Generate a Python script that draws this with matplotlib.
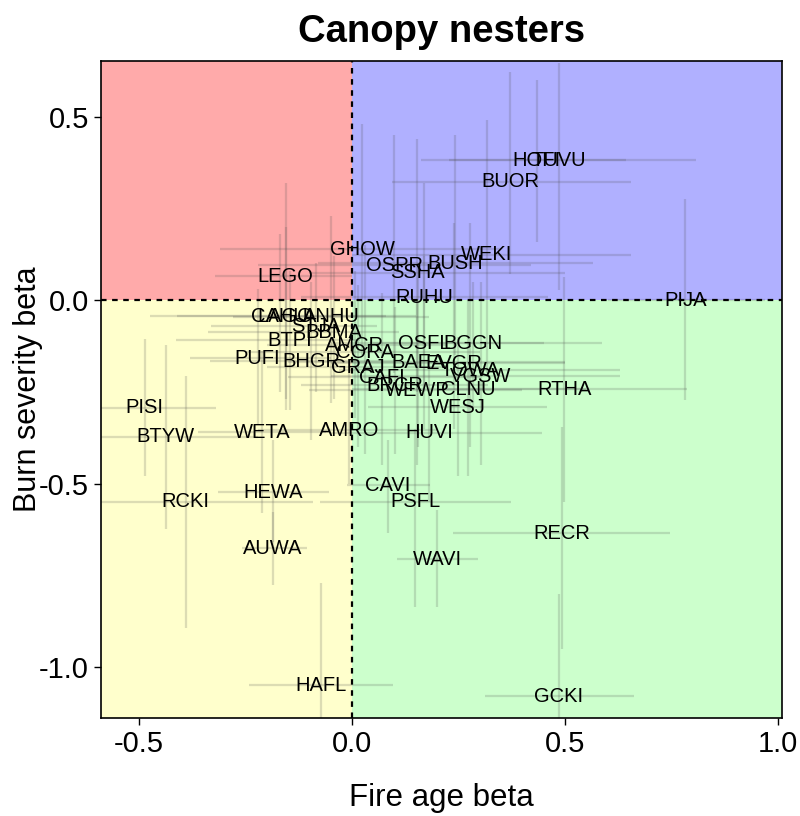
import matplotlib
matplotlib.use("Agg")
import matplotlib.pyplot as plt

plt.rcParams['font.family'] = ['Liberation Sans', 'DejaVu Sans']

species = ["PISI", "BTYW", "RCKI", "WETA", "HEWA", "AUWA", "HAFL", "PUFI",
           "BHGR", "BTPI", "CAHU", "LAGO", "ANHU", "STJA", "BBMA", "AMCR",
           "CORA", "GRAJ", "CAFI", "BRCR", "WEWP", "CLNU", "BAEA", "EVGR",
           "TOWA", "VGSW", "OSFL", "BGGN", "WESJ", "HUVI", "RTHA", "PIJA",
           "AMRO", "CAVI", "PSFL", "WAVI", "RECR", "GCKI", "GHOW", "LEGO",
           "OSPR", "SSHA", "BUSH", "WEKI", "RUHU", "BUOR", "HOFI", "TUVU"]

fire_beta = [-0.486, -0.437, -0.390, -0.211, -0.185, -0.185, -0.073, -0.221,
             -0.096, -0.146, -0.169, -0.155, -0.049, -0.085, -0.042, 0.007,
             0.031, 0.014, 0.070, 0.101, 0.153, 0.272, 0.155, 0.239,
             0.277, 0.303, 0.169, 0.284, 0.249, 0.181, 0.498, 0.782,
             -0.007, 0.085, 0.148, 0.200, 0.493, 0.486, 0.024, -0.155,
             0.099, 0.153, 0.242, 0.317, 0.169, 0.371, 0.434, 0.486]

burn_beta = [-0.294, -0.373, -0.550, -0.360, -0.523, -0.676, -1.049, -0.158,
             -0.166, -0.109, -0.044, -0.044, -0.046, -0.071, -0.087, -0.123,
             -0.142, -0.183, -0.210, -0.232, -0.245, -0.243, -0.169, -0.172,
             -0.191, -0.207, -0.117, -0.117, -0.292, -0.362, -0.243, 0.000,
             -0.354, -0.504, -0.550, -0.706, -0.635, -1.079, 0.139, 0.065,
             0.095, 0.074, 0.101, 0.123, 0.008, 0.322, 0.381, 0.381]

fire_lo = [-0.62, -0.66, -0.70, -0.36, -0.315, -0.258, -0.242, -0.38,
           -0.333, -0.413, -0.474, -0.41, -0.28, -0.33, -0.338, -0.20,
           -0.25, -0.20, -0.15, -0.12, -0.10, 0.00, -0.15, -0.05,
           -0.03, -0.05, -0.05, 0.05, 0.038, -0.05, 0.20, 0.60,
           -0.22, -0.012, -0.075, 0.106, 0.237, 0.312, -0.31, -0.32,
           -0.22, -0.10, -0.08, 0.00, -0.12, 0.094, 0.162, 0.228]

fire_hi = [-0.319, -0.22, -0.092, -0.06, -0.054, -0.106, 0.096, -0.05,
           0.10, 0.02, 0.08, 0.15, 0.18, 0.06, 0.11, 0.22,
           0.30, 0.22, 0.30, 0.32, 0.40, 0.55, 0.50, 0.50,
           0.63, 0.63, 0.587, 0.45, 0.458, 0.446, 0.786, 0.97,
           0.20, 0.183, 0.373, 0.296, 0.746, 0.662, 0.35, 0.00,
           0.42, 0.50, 0.566, 0.655, 0.46, 0.655, 0.643, 0.808]

burn_lo = [-0.480, -0.624, -0.894, -0.58, -0.66, -0.777, -1.25, -0.34,
           -0.38, -0.30, -0.25, -0.30, -0.28, -0.25, -0.27, -0.32,
           -0.42, -0.40, -0.45, -0.42, -0.45, -0.48, -0.40, -0.35,
           -0.40, -0.45, -0.35, -0.30, -0.48, -0.55, -0.55, -0.272,
           -0.50, -0.635, -0.837, -0.837, -0.95, -1.30, -0.15, -0.27,
           -0.20, -0.25, -0.15, -0.20, -0.25, 0.071, 0.158, 0.027]

burn_hi = [-0.106, -0.123, -0.207, -0.14, -0.38, -0.578, -0.771, 0.03,
           0.05, 0.08, 0.18, 0.20, 0.23, 0.10, 0.12, 0.08,
           0.15, 0.04, 0.02, -0.02, 0.00, 0.00, 0.10, 0.21,
           0.21, 0.05, 0.12, 0.05, -0.10, -0.17, 0.063, 0.275,
           -0.20, -0.38, -0.35, -0.572, -0.346, -0.80, 0.48, 0.32,
           0.45, 0.44, 0.45, 0.49, 0.32, 0.621, 0.599, 0.646]

xmin, xmax = -0.589, 1.009
ymin, ymax = -1.139, 0.651

fig = plt.figure(figsize=(8, 8.16), dpi=100)
ax = fig.add_axes([0.126, 0.12, 0.8515, 0.805])

# quadrant shading
ax.fill_between([xmin, 0], 0, ymax, color="#FFAAAA", lw=0, zorder=0)
ax.fill_between([0, xmax], 0, ymax, color="#B0B0FF", lw=0, zorder=0)
ax.fill_between([xmin, 0], ymin, 0, color="#FFFFCC", lw=0, zorder=0)
ax.fill_between([0, xmax], ymin, 0, color="#CCFFCC", lw=0, zorder=0)

# credible intervals
ax.hlines(burn_beta, fire_lo, fire_hi, color="#505050", alpha=0.2, lw=1.6, zorder=1)
ax.vlines(fire_beta, burn_lo, burn_hi, color="#505050", alpha=0.2, lw=1.6, zorder=1)

ax.axvline(0, color="black", ls=(0, (2.5, 2.5)), lw=1.6, zorder=2)
ax.axhline(0, color="black", ls=(0, (2.5, 2.5)), lw=1.6, zorder=2)

for name, fx, by in zip(species, fire_beta, burn_beta):
    ax.text(fx, by, name, ha="center", va="center", fontsize=14.5, zorder=3)

ax.set_xlim(xmin, xmax)
ax.set_ylim(ymin, ymax)
ax.set_xticks([-0.5, 0.0, 0.5, 1.0])
ax.set_xticklabels(["-0.5", "0.0", "0.5", "1.0"])
ax.set_yticks([-1.0, -0.5, 0.0, 0.5])
ax.set_yticklabels(["-1.0", "-0.5", "0.0", "0.5"])
ax.tick_params(labelsize=21, length=5, width=1, direction="out")
for s in ax.spines.values():
    s.set_linewidth(1.2)

ax.set_xlabel("Fire age beta", fontsize=22.5, labelpad=18)
ax.set_ylabel("Burn severity beta", fontsize=22)
ax.yaxis.set_label_coords(-0.085, 0.5)
ax.set_title("Canopy nesters", fontsize=27.5, fontweight="bold", pad=14)

fig.savefig("out.png", dpi=100)
